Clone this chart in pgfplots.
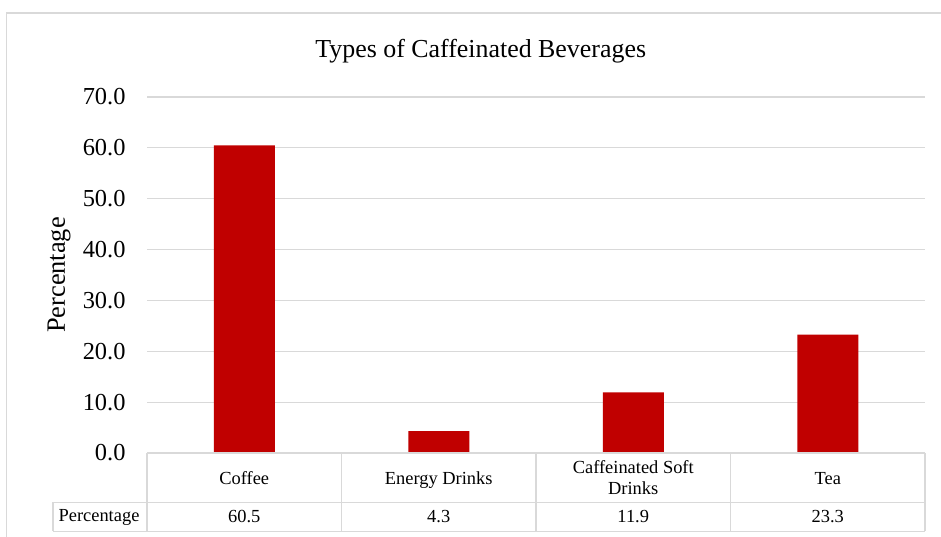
\documentclass[border=0pt]{standalone}
\usepackage{pgfplots}
\pgfplotsset{compat=1.18}
\usepackage{fontspec}
\setmainfont{Liberation Serif}
\definecolor{barred}{HTML}{C00000}
\definecolor{gridgray}{HTML}{D9D9D9}
\begin{document}
\begin{tikzpicture}
\useasboundingbox (0,0) rectangle (941bp,537bp);
\fill[white] (0,0) rectangle (941bp,537bp);
% outer frame
\draw[gridgray, line width=1.2bp] (6.7bp,0) -- (6.7bp,524bp) -- (941bp,524bp);
\begin{axis}[
  at={(147bp,84bp)}, anchor=south west,
  scale only axis, width=778bp, height=356bp,
  xmin=-0.5, xmax=3.5, ymin=0, ymax=70,
  ytick={0,10,...,70},
  xtick={0,1,2,3},
  xticklabels={\strut Coffee, \strut Energy Drinks, {\strut Caffeinated Soft\\\strut Drinks}, \strut Tea},
  xticklabel style={anchor=center, yshift=-27bp, align=center, font=\fontsize{18.5}{21}\selectfont},
  yticklabel style={anchor=east, inner sep=0pt, xshift=-21.3bp, font=\fontsize{24.5}{28}\selectfont},
  /pgf/number format/assume math mode=true,
  yticklabel={\pgfmathprintnumber[fixed, fixed zerofill, precision=1]{\tick}},
  ymajorgrids, major grid style={draw=gridgray, line width=1.2bp},
  axis line style={draw=none},
  major tick length=0pt,
  tick style={draw=none},
  ylabel={Percentage},
  every axis y label/.style={at={(rel axis cs:0,0.5)}, xshift=-88bp, rotate=90, anchor=center, font=\fontsize{26.5}{30}\selectfont},
  clip=false,
]
\addplot[ybar, bar width=61bp, fill=barred, draw=none] coordinates {(0,60.5) (1,4.3) (2,11.9) (3,23.3)};
\node[font=\fontsize{18.5}{21}\selectfont, yshift=-64bp] at (axis cs:0,0) {60.5};
\node[font=\fontsize{18.5}{21}\selectfont, yshift=-64bp] at (axis cs:1,0) {4.3};
\node[font=\fontsize{18.5}{21}\selectfont, yshift=-64bp] at (axis cs:2,0) {11.9};
\node[font=\fontsize{18.5}{21}\selectfont, yshift=-64bp] at (axis cs:3,0) {23.3};
\end{axis}
% title
\node[font=\fontsize{26}{30}\selectfont, anchor=base] at (480.7bp,479.3bp) {Types of Caffeinated Beverages};
% data table lines
\begin{scope}[gridgray, line width=1.2bp]
\draw (147bp,84bp) -- (925bp,84bp);
\draw (53bp,34.5bp) -- (925bp,34.5bp);
\draw (53bp,5.5bp) -- (925bp,5.5bp);
\draw (53bp,34.5bp) -- (53bp,5.5bp);
\foreach \x in {147,341.5,536,730.5,925} \draw (\x bp,84bp) -- (\x bp,5.5bp);
\end{scope}
\node[font=\fontsize{18.5}{21}\selectfont] at (99bp,20bp) {Percentage};
\end{tikzpicture}
\end{document}
